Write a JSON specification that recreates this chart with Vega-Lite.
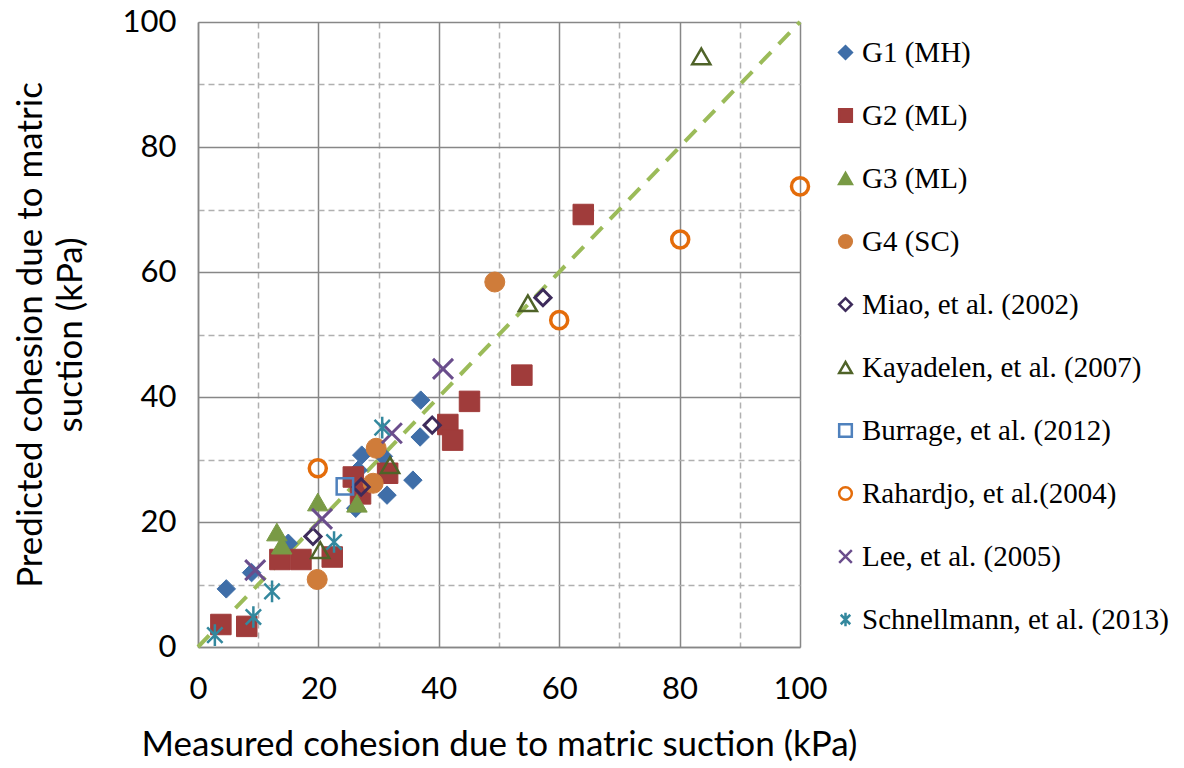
{
  "$schema": "https://vega.github.io/schema/vega-lite/v6.json",
  "width": 602,
  "height": 625,
  "autosize": {"type": "none"},
  "padding": {"left": 198, "top": 22, "right": 384, "bottom": 121},
  "background": "white",
  "config": {
    "view": {"stroke": null},
    "font": "Lato",
    "axis": {
      "labelFont": "Lato",
      "titleFont": "Lato",
      "labelColor": "black",
      "titleColor": "black",
      "titleFontWeight": "normal",
      "ticks": false,
      "domainColor": "#878787",
      "domainWidth": 1.5
    }
  },
  "datasets": {
    "points": [
      {"series": "G1 (MH)", "measured": 4.7, "predicted": 9.3},
      {"series": "G1 (MH)", "measured": 8.9, "predicted": 11.9},
      {"series": "G1 (MH)", "measured": 15.0, "predicted": 16.6},
      {"series": "G1 (MH)", "measured": 26.2, "predicted": 22.2},
      {"series": "G1 (MH)", "measured": 26.6, "predicted": 28.3},
      {"series": "G1 (MH)", "measured": 27.2, "predicted": 30.7},
      {"series": "G1 (MH)", "measured": 30.8, "predicted": 30.5},
      {"series": "G1 (MH)", "measured": 31.4, "predicted": 24.3},
      {"series": "G1 (MH)", "measured": 35.7, "predicted": 26.7},
      {"series": "G1 (MH)", "measured": 36.9, "predicted": 33.6},
      {"series": "G1 (MH)", "measured": 37.0, "predicted": 39.5},
      {"series": "G2 (ML)", "measured": 3.8, "predicted": 3.6},
      {"series": "G2 (ML)", "measured": 8.1, "predicted": 3.3},
      {"series": "G2 (ML)", "measured": 13.6, "predicted": 14.0},
      {"series": "G2 (ML)", "measured": 17.1, "predicted": 14.0},
      {"series": "G2 (ML)", "measured": 22.3, "predicted": 14.4},
      {"series": "G2 (ML)", "measured": 25.8, "predicted": 27.2},
      {"series": "G2 (ML)", "measured": 27.0, "predicted": 24.5},
      {"series": "G2 (ML)", "measured": 31.5, "predicted": 27.8},
      {"series": "G2 (ML)", "measured": 41.5, "predicted": 35.6},
      {"series": "G2 (ML)", "measured": 42.3, "predicted": 33.1},
      {"series": "G2 (ML)", "measured": 45.1, "predicted": 39.3},
      {"series": "G2 (ML)", "measured": 53.8, "predicted": 43.5},
      {"series": "G2 (ML)", "measured": 64.0, "predicted": 69.2},
      {"series": "G3 (ML)", "measured": 13.1, "predicted": 18.4},
      {"series": "G3 (ML)", "measured": 13.9, "predicted": 16.3},
      {"series": "G3 (ML)", "measured": 19.9, "predicted": 23.2},
      {"series": "G3 (ML)", "measured": 26.4, "predicted": 23.0},
      {"series": "G4 (SC)", "measured": 19.8, "predicted": 10.8},
      {"series": "G4 (SC)", "measured": 29.1, "predicted": 26.2},
      {"series": "G4 (SC)", "measured": 29.6, "predicted": 31.8},
      {"series": "G4 (SC)", "measured": 49.3, "predicted": 58.4},
      {"series": "Miao, et al. (2002)", "measured": 19.1, "predicted": 17.7},
      {"series": "Miao, et al. (2002)", "measured": 27.1, "predicted": 25.6},
      {"series": "Miao, et al. (2002)", "measured": 38.9, "predicted": 35.5},
      {"series": "Miao, et al. (2002)", "measured": 57.3, "predicted": 55.9},
      {"series": "Kayadelen, et al. (2007)", "measured": 20.3, "predicted": 15.5},
      {"series": "Kayadelen, et al. (2007)", "measured": 31.9, "predicted": 29.1},
      {"series": "Kayadelen, et al. (2007)", "measured": 54.8, "predicted": 55.0},
      {"series": "Kayadelen, et al. (2007)", "measured": 83.6, "predicted": 94.5},
      {"series": "Burrage, et al. (2012)", "measured": 24.4, "predicted": 25.7},
      {"series": "Rahardjo, et al.(2004)", "measured": 19.9, "predicted": 28.6},
      {"series": "Rahardjo, et al.(2004)", "measured": 60.0, "predicted": 52.3},
      {"series": "Rahardjo, et al.(2004)", "measured": 80.1, "predicted": 65.2},
      {"series": "Rahardjo, et al.(2004)", "measured": 100.0, "predicted": 73.7},
      {"series": "Lee, et al. (2005)", "measured": 9.5, "predicted": 12.3},
      {"series": "Lee, et al. (2005)", "measured": 20.6, "predicted": 20.5},
      {"series": "Lee, et al. (2005)", "measured": 32.2, "predicted": 34.2},
      {"series": "Lee, et al. (2005)", "measured": 40.7, "predicted": 44.5},
      {"series": "Schnellmann, et al. (2013)", "measured": 2.8, "predicted": 1.9},
      {"series": "Schnellmann, et al. (2013)", "measured": 9.2, "predicted": 4.8},
      {"series": "Schnellmann, et al. (2013)", "measured": 12.3, "predicted": 8.9},
      {"series": "Schnellmann, et al. (2013)", "measured": 22.6, "predicted": 16.8},
      {"series": "Schnellmann, et al. (2013)", "measured": 30.6, "predicted": 35.1}
    ],
    "equality": [
      {"measured": 0, "predicted": 0},
      {"measured": 100, "predicted": 100}
    ]
  },
  "encoding": {
    "x": {
      "field": "measured",
      "type": "quantitative",
      "scale": {"domain": [0, 100], "nice": false},
      "axis": {
        "title": "Measured cohesion due to matric suction (kPa)",
        "values": [0, 10, 20, 30, 40, 50, 60, 70, 80, 90, 100],
        "labelExpr": "datum.value % 20 === 0 ? datum.label : ''",
        "grid": true,
        "gridColor": {"condition": {"test": "datum.value % 20 !== 0", "value": "#b0b0b0"}, "value": "#878787"},
        "gridDash": {"condition": {"test": "datum.value % 20 !== 0", "value": [6, 4]}, "value": []},
        "gridWidth": 1.5,
        "labelFontSize": 31,
        "labelPadding": 27,
        "labelFlush": false,
        "titleFontSize": 35,
        "titlePadding": 23
      }
    },
    "y": {
      "field": "predicted",
      "type": "quantitative",
      "scale": {"domain": [0, 100], "nice": false},
      "axis": {
        "title": ["Predicted cohesion due to matric", "suction (kPa)"],
        "values": [0, 10, 20, 30, 40, 50, 60, 70, 80, 90, 100],
        "labelExpr": "datum.value % 20 === 0 ? datum.label : ''",
        "grid": true,
        "gridColor": {"condition": {"test": "datum.value % 20 !== 0", "value": "#b0b0b0"}, "value": "#878787"},
        "gridDash": {"condition": {"test": "datum.value % 20 !== 0", "value": [6, 4]}, "value": []},
        "gridWidth": 1.5,
        "labelFontSize": 31,
        "labelPadding": 22,
        "labelFlush": false,
        "titleFontSize": 35,
        "titleLineHeight": 40,
        "titlePadding": 34
      }
    }
  },
  "layer": [
    {
      "data": {"name": "equality"},
      "mark": {"type": "line", "color": "#9BBB59", "strokeWidth": 4, "strokeDash": [16, 11]},
      "encoding": {}
    },
    {
      "data": {"name": "points"},
      "encoding": {
        "shape": {
          "field": "series",
          "type": "nominal",
          "scale": {
            "domain": ["G1 (MH)", "G2 (ML)", "G3 (ML)", "G4 (SC)", "Miao, et al. (2002)", "Kayadelen, et al. (2007)", "Burrage, et al. (2012)", "Rahardjo, et al.(2004)", "Lee, et al. (2005)", "Schnellmann, et al. (2013)"],
            "range": ["diamond", "square", "triangle-up", "circle", "diamond", "triangle-up", "square", "circle", "M-1,-1L1,1M-1,1L1,-1", "M-0.75,-0.75L0.75,0.75M-0.75,0.75L0.75,-0.75M0,-1.05L0,1.05"]
          },
          "legend": {
            "title": null,
            "orient": "none",
            "legendX": 633,
            "legendY": 16,
            "labelFont": "Liberation Serif",
            "labelFontSize": 29,
            "labelColor": "black",
            "labelOffset": 2,
            "symbolSize": 160,
            "symbolStrokeWidth": 2.5,
            "rowPadding": 33,
            "labelLimit": 400
          }
        },
        "stroke": {
          "field": "series",
          "type": "nominal",
          "scale": {
            "domain": ["G1 (MH)", "G2 (ML)", "G3 (ML)", "G4 (SC)", "Miao, et al. (2002)", "Kayadelen, et al. (2007)", "Burrage, et al. (2012)", "Rahardjo, et al.(2004)", "Lee, et al. (2005)", "Schnellmann, et al. (2013)"],
            "range": ["#3F6EA8", "#A03C3B", "#799A45", "#CF7C3A", "#3D2B5B", "#4F6328", "#4F81BD", "#E46C0A", "#6A4D8C", "#33889E"]
          }
        },
        "fill": {
          "field": "series",
          "type": "nominal",
          "scale": {
            "domain": ["G1 (MH)", "G2 (ML)", "G3 (ML)", "G4 (SC)", "Miao, et al. (2002)", "Kayadelen, et al. (2007)", "Burrage, et al. (2012)", "Rahardjo, et al.(2004)", "Lee, et al. (2005)", "Schnellmann, et al. (2013)"],
            "range": ["#3F6EA8", "#A03C3B", "#799A45", "#CF7C3A", "transparent", "transparent", "transparent", "transparent", "transparent", "transparent"]
          }
        }
      },
      "layer": [
        {"transform": [{"filter": "datum.series === 'G1 (MH)'"}], "mark": {"type": "point", "opacity": 1, "size": 340, "strokeWidth": 1}},
        {"transform": [{"filter": "datum.series === 'G2 (ML)'"}], "mark": {"type": "point", "opacity": 1, "size": 420, "strokeWidth": 1}},
        {"transform": [{"filter": "datum.series === 'G3 (ML)'"}], "mark": {"type": "point", "opacity": 1, "size": 420, "strokeWidth": 1}},
        {"transform": [{"filter": "datum.series === 'G4 (SC)'"}], "mark": {"type": "point", "opacity": 1, "size": 400, "strokeWidth": 1}},
        {"transform": [{"filter": "datum.series === 'Miao, et al. (2002)'"}], "mark": {"type": "point", "opacity": 1, "size": 260, "strokeWidth": 3}},
        {"transform": [{"filter": "datum.series === 'Kayadelen, et al. (2007)'"}], "mark": {"type": "point", "opacity": 1, "size": 330, "strokeWidth": 2.5}},
        {"transform": [{"filter": "datum.series === 'Burrage, et al. (2012)'"}], "mark": {"type": "point", "opacity": 1, "size": 270, "strokeWidth": 2.5}},
        {"transform": [{"filter": "datum.series === 'Rahardjo, et al.(2004)'"}], "mark": {"type": "point", "opacity": 1, "size": 290, "strokeWidth": 3.5}},
        {"transform": [{"filter": "datum.series === 'Lee, et al. (2005)'"}], "mark": {"type": "point", "opacity": 1, "size": 400, "strokeWidth": 3}},
        {"transform": [{"filter": "datum.series === 'Schnellmann, et al. (2013)'"}], "mark": {"type": "point", "opacity": 1, "size": 420, "strokeWidth": 2.5}}
      ]
    }
  ]
}
